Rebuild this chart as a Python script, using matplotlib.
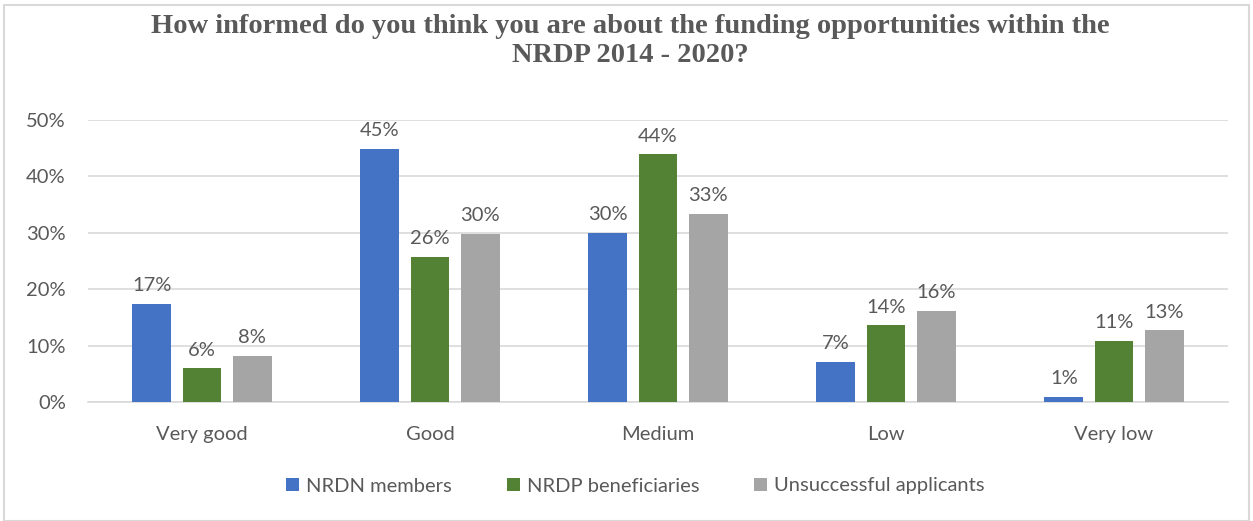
import matplotlib
matplotlib.use("Agg")
import matplotlib.pyplot as plt
from matplotlib.patches import Rectangle
import numpy as np

categories = ["Very good", "Good", "Medium", "Low", "Very low"]
series_names = ["NRDN members", "NRDP beneficiaries", "Unsuccessful applicants"]
nrdn = [17.4, 44.9, 30.0, 7.1, 0.9]
nrdp = [6.0, 25.7, 43.9, 13.6, 10.8]
unsucc = [8.2, 29.8, 33.4, 16.2, 12.7]
colors = ["#4472C4", "#548235", "#A5A5A5"]
title = "How informed do you think you are about the funding opportunities within the\nNRDP 2014 - 2020?"

plt.rcParams['font.family'] = ['Lato', 'DejaVu Sans']
W, H = 1253, 521
fig = plt.figure(figsize=(W/100, H/100), dpi=100)
fig.patches.append(Rectangle((4/W, 0), 1-8/W, 1-5/H, transform=fig.transFigure,
                             fill=False, edgecolor="#D9D9D9", linewidth=1.5))
ax = fig.add_axes([88/W, 1-402/H, (1228-88)/W, (402-120)/H])

x = np.arange(len(categories))
width = 0.17
step = 0.22
text_color = "#595959"
fs = 14.5
for i, (vals, name, c) in enumerate(zip([nrdn, nrdp, unsucc], series_names, colors)):
    pos = x + (i-1)*step
    ax.bar(pos, vals, width, color=c, label=name, zorder=3)
    for p, v in zip(pos, vals):
        ax.text(p, v + 1.7, f"{round(v):.0f}%", ha="center", va="bottom",
                fontsize=fs, color=text_color)

ax.set_xlim(-0.5, len(categories)-0.5)
ax.set_ylim(0, 50)
ax.set_yticks(np.arange(0, 51, 10))
ax.set_yticklabels([f"{t}%" for t in range(0, 51, 10)])
ax.set_xticks(x)
ax.set_xticklabels(categories)
ax.tick_params(axis="both", length=0, labelsize=fs, colors=text_color)
ax.tick_params(axis="x", pad=17)
ax.tick_params(axis="y", pad=16)
ax.grid(axis="y", color="#D9D9D9", linewidth=1.2, zorder=0)
for s in ["top", "right", "left"]:
    ax.spines[s].set_visible(False)
ax.spines["bottom"].set_color("#D9D9D9")
ax.spines["bottom"].set_linewidth(1.2)

fig.text(0.503, 1-41/H, title, ha="center", va="center", fontsize=20.5, fontweight="bold",
         color=text_color, family=["Liberation Serif"], linespacing=1.22)

leg = fig.legend(loc="center", bbox_to_anchor=(0.507, 1-486/H), ncol=3, frameon=False,
                 fontsize=fs, handlelength=0.65, handleheight=0.65, handletextpad=0.35,
                 columnspacing=2.7)
for t in leg.get_texts():
    t.set_color(text_color)

fig.savefig("out.png", dpi=100)
